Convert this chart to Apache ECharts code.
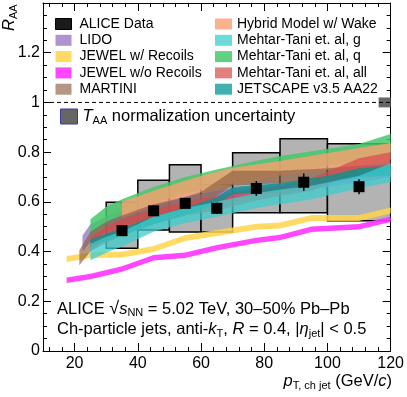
<!DOCTYPE html>
<html>
<head>
<meta charset="utf-8">
<script src="https://cdn.jsdelivr.net/npm/echarts@6/dist/echarts.min.js"></script>
<style>
  html, body { margin: 0; background: #fff; }
  #chart { width: 407px; height: 397px; }
</style>
</head>
<body>
<div id="chart"></div>
<script>
const FONT = 'Liberation Sans'

// ALICE data, 30-50% Pb-Pb
const aliceX = [35, 45, 55, 65, 77.5, 92.5, 110]
const aliceBinLo = [30, 40, 50, 60, 70, 85, 100]
const aliceBinHi = [40, 50, 60, 70, 85, 100, 120]
const aliceRaa = [0.484, 0.564, 0.594, 0.574, 0.654, 0.679, 0.661]
const aliceStat = [0.015, 0.02, 0.015, 0.022, 0.03, 0.035, 0.03]
const aliceSysLo = [0.413, 0.487, 0.479, 0.479, 0.556, 0.556, 0.524]
const aliceSysHi = [0.598, 0.687, 0.749, 0.67, 0.798, 0.854, 0.834]

// model bands (x, lower edge, upper edge)
const lidoX = [22.5, 25, 30, 35, 45, 55, 65, 77.5, 95, 110, 120]
const lidoLo = [0.40, 0.44, 0.48, 0.50, 0.535, 0.565, 0.60, 0.625, 0.65, 0.68, 0.70]
const lidoHi = [0.465, 0.51, 0.54, 0.56, 0.59, 0.62, 0.645, 0.665, 0.69, 0.72, 0.74]

const jewelRX = [17.5, 25, 35, 45, 55, 65, 77.5, 85, 95, 110, 120]
const jewelRLo = [0.358, 0.374, 0.376, 0.398, 0.443, 0.463, 0.488, 0.493, 0.523, 0.523, 0.553]
const jewelRHi = [0.382, 0.396, 0.400, 0.422, 0.467, 0.487, 0.512, 0.517, 0.547, 0.547, 0.577]

const jewelNX = [17.5, 25, 35, 45, 55, 65, 77.5, 85, 95, 110, 120]
const jewelNLo = [0.274, 0.289, 0.319, 0.364, 0.374, 0.404, 0.434, 0.446, 0.479, 0.489, 0.519]
const jewelNHi = [0.296, 0.311, 0.341, 0.386, 0.396, 0.426, 0.456, 0.468, 0.501, 0.511, 0.541]

const martiniX = [21.5, 25, 30, 35, 45, 55, 60, 70, 85, 100, 110, 120]
const martiniLo = [0.345, 0.40, 0.455, 0.49, 0.535, 0.565, 0.585, 0.665, 0.675, 0.69, 0.70, 0.705]
const martiniHi = [0.405, 0.48, 0.52, 0.545, 0.59, 0.62, 0.64, 0.725, 0.725, 0.735, 0.745, 0.75]

const hybridX = [35, 45, 55, 60, 70, 85, 95, 110, 120]
const hybridLo = [0.535, 0.58, 0.62, 0.637, 0.67, 0.705, 0.72, 0.745, 0.77]
const hybridHi = [0.60, 0.645, 0.685, 0.704, 0.737, 0.764, 0.785, 0.817, 0.837]

const mtgX = [25, 30, 35, 45, 55, 65, 77.5, 85, 95, 110, 120]
const mtgLo = [0.365, 0.395, 0.42, 0.48, 0.515, 0.54, 0.575, 0.59, 0.61, 0.655, 0.68]
const mtgHi = [0.43, 0.46, 0.48, 0.54, 0.575, 0.60, 0.635, 0.65, 0.665, 0.705, 0.755]

const mtqX = [25, 30, 35, 45, 55, 65, 77.5, 85, 95, 110, 120]
const mtqLo = [0.46, 0.51, 0.545, 0.595, 0.635, 0.665, 0.70, 0.715, 0.735, 0.765, 0.80]
const mtqHi = [0.53, 0.58, 0.61, 0.66, 0.70, 0.73, 0.765, 0.784, 0.804, 0.833, 0.873]

const mtaX = [25, 30, 35, 45, 55, 65, 77.5, 85, 95, 110, 120]
const mtaLo = [0.40, 0.435, 0.465, 0.51, 0.545, 0.565, 0.605, 0.625, 0.645, 0.725, 0.745]
const mtaHi = [0.46, 0.50, 0.53, 0.57, 0.60, 0.625, 0.655, 0.665, 0.695, 0.775, 0.80]

const jsX = [25, 35, 45, 55, 65, 70, 85, 100, 110, 120]
const jsLo = [0.42, 0.465, 0.51, 0.545, 0.59, 0.63, 0.645, 0.675, 0.70, 0.71]
const jsHi = [0.45, 0.495, 0.54, 0.575, 0.62, 0.66, 0.675, 0.705, 0.735, 0.745]

// T_AA normalization uncertainty box
const taaX = [116.2, 120]
const taaY = [0.98, 1.02]

const xMajorTicks = [20, 40, 60, 80, 100, 120]
const xMinorTicks = [12, 16, 24, 28, 32, 36, 44, 48, 52, 56, 64, 68, 72, 76, 84, 88, 92, 96, 104, 108, 112, 116]

function bandSeries(name, color, xs, lo, hi, opacity) {
  return {
    type: 'custom',
    name: name,
    clip: true,
    itemStyle: { color: color, opacity: opacity },
    data: xs.map((x, i) => [x, lo[i], hi[i]]),
    encode: { x: 0, y: [1, 2] },
    renderItem(params, api) {
      if (params.dataIndex !== 0) {
        return null
      }
      const top = xs.map((x, i) => api.coord([x, hi[i]]))
      const bottom = xs.map((x, i) => api.coord([x, lo[i]])).reverse()
      return {
        type: 'polygon',
        shape: { points: top.concat(bottom) },
        style: { fill: color, opacity: opacity },
      }
    },
  }
}

const rich = {
  n: { fontSize: 16.5, fontFamily: FONT, color: '#000' },
  i: { fontSize: 16.5, fontFamily: FONT, color: '#000', fontStyle: 'italic' },
  r: { fontSize: 18, fontFamily: FONT, color: '#000' },
  sub: { fontSize: 11, fontFamily: FONT, color: '#000', padding: [8, 0, 0, 0] },
}

const legendText = { fontSize: 14, fontFamily: FONT, color: '#000' }

const chart = echarts.init(document.getElementById('chart'))

chart.setOption({
  animation: false,
  backgroundColor: '#fff',
  textStyle: { fontFamily: FONT },
  grid: { left: 43, right: 15, top: 3, bottom: 46 },
  xAxis: [
    {
      type: 'value', min: 10, max: 120, position: 'bottom',
      axisLine: { show: true, lineStyle: { color: '#000', width: 1 } },
      axisTick: { inside: true, length: 8, customValues: xMajorTicks, lineStyle: { color: '#000' } },
      axisLabel: { customValues: xMajorTicks, color: '#000', fontSize: 16, fontFamily: FONT, margin: 5 },
      splitLine: { show: false },
    },
    {
      type: 'value', min: 10, max: 120, position: 'bottom',
      axisLine: { show: false },
      axisTick: { inside: true, length: 4, customValues: xMinorTicks, lineStyle: { color: '#000' } },
      axisLabel: { show: false },
      splitLine: { show: false },
    },
    {
      type: 'value', min: 10, max: 120, position: 'top',
      axisLine: { show: true, lineStyle: { color: '#000', width: 1 } },
      axisTick: { inside: true, length: 8, customValues: xMajorTicks, lineStyle: { color: '#000' } },
      axisLabel: { show: false },
      splitLine: { show: false },
    },
    {
      type: 'value', min: 10, max: 120, position: 'top',
      axisLine: { show: false },
      axisTick: { inside: true, length: 4, customValues: xMinorTicks, lineStyle: { color: '#000' } },
      axisLabel: { show: false },
      splitLine: { show: false },
    },
  ],
  yAxis: [
    {
      type: 'value', min: 0, max: 1.4, interval: 0.2, position: 'left',
      axisLine: { show: true, lineStyle: { color: '#000', width: 1 } },
      axisTick: { inside: true, length: 8, lineStyle: { color: '#000' } },
      minorTick: { show: true, splitNumber: 4, length: 4, lineStyle: { color: '#000' } },
      axisLabel: { showMaxLabel: false, color: '#000', fontSize: 16, fontFamily: FONT, margin: 3 },
      splitLine: { show: false },
    },
    {
      type: 'value', min: 0, max: 1.4, interval: 0.2, position: 'right',
      axisLine: { show: true, lineStyle: { color: '#000', width: 1 } },
      axisTick: { inside: true, length: 8, lineStyle: { color: '#000' } },
      minorTick: { show: true, splitNumber: 4, length: 4, lineStyle: { color: '#000' } },
      axisLabel: { show: false },
      splitLine: { show: false },
    },
  ],
  legend: [
    {
      orient: 'vertical', left: 55, top: 17, padding: 0, icon: 'rect',
      itemWidth: 16, itemHeight: 11, itemGap: 2.3, selectedMode: false,
      textStyle: Object.assign({ padding: [0, 0, 0, 3] }, legendText),
      data: [
        { name: 'ALICE Data', itemStyle: { color: '#1a1a1a', borderColor: '#000', borderWidth: 1, opacity: 1 } },
        'LIDO', 'JEWEL w/ Recoils', 'JEWEL w/o Recoils', 'MARTINI',
      ],
    },
    {
      orient: 'vertical', left: 215, top: 17, padding: 0, icon: 'rect',
      itemWidth: 17, itemHeight: 11, itemGap: 2.3, selectedMode: false,
      textStyle: legendText,
      data: ['Hybrid Model w/ Wake', 'Mehtar-Tani et. al, g', 'Mehtar-Tani et. al, q', 'Mehtar-Tani et. al, all', 'JETSCAPE v3.5 AA22'],
    },
    {
      orient: 'vertical', left: 60, top: 108, padding: 0, icon: 'rect',
      itemWidth: 17, itemHeight: 15, selectedMode: false,
      data: [{ name: 'TAA', itemStyle: { color: '#666', borderColor: '#3a3aa0', borderWidth: 1 } }],
      formatter: () => '{i|T}{sub|AA}{n| normalization uncertainty}',
      textStyle: { rich: rich },
    },
  ],
  graphic: [
    {
      type: 'text', x: 19, y: 31, rotation: Math.PI / 2,
      style: { text: '{i|R}{sub|AA}', rich: rich, align: 'left', verticalAlign: 'bottom' },
    },
    {
      type: 'text', left: 57, top: 300,
      style: { text: '{n|ALICE }{r|√}{i|s}{sub|NN}{n| = 5.02 TeV, 30–50% Pb–Pb}', rich: rich },
    },
    {
      type: 'text', left: 57, top: 321,
      style: { text: '{n|Ch-particle jets, anti-}{i|k}{sub|T}{n|, }{i|R}{n| = 0.4, |}{i|η}{sub|jet}{n|| < 0.5}', rich: rich },
    },
    {
      type: 'text', right: 15, top: 373,
      style: { text: '{i|p}{sub|T, ch jet}{n| (GeV/}{i|c}{n|)}', rich: rich },
    },
  ],
  series: [
    {
      type: 'custom',
      name: 'ALICE sys',
      clip: true,
      data: aliceX.map((x, i) => [aliceBinLo[i], aliceBinHi[i], aliceSysLo[i], aliceSysHi[i]]),
      encode: { x: [0, 1], y: [2, 3] },
      renderItem(params, api) {
        const p0 = api.coord([api.value(0), api.value(3)])
        const p1 = api.coord([api.value(1), api.value(2)])
        return {
          type: 'rect',
          shape: { x: p0[0], y: p0[1], width: p1[0] - p0[0], height: p1[1] - p0[1] },
          style: { fill: '#b3b3b3', stroke: '#000', lineWidth: 1.5 },
        }
      },
    },
    bandSeries('LIDO', '#9b78c2', lidoX, lidoLo, lidoHi, 0.8),
    bandSeries('JEWEL w/ Recoils', '#ffd449', jewelRX, jewelRLo, jewelRHi, 0.85),
    bandSeries('JEWEL w/o Recoils', '#ff33ff', jewelNX, jewelNLo, jewelNHi, 0.9),
    bandSeries('Mehtar-Tani et. al, q', '#45c86a', mtqX, mtqLo, mtqHi, 0.85),
    bandSeries('Hybrid Model w/ Wake', '#fb9f70', hybridX, hybridLo, hybridHi, 0.8),
    bandSeries('MARTINI', '#8c6040', martiniX, martiniLo, martiniHi, 0.65),
    bandSeries('Mehtar-Tani et. al, all', '#d64848', mtaX, mtaLo, mtaHi, 0.7),
    bandSeries('JETSCAPE v3.5 AA22', '#009595', jsX, jsLo, jsHi, 0.75),
    bandSeries('Mehtar-Tani et. al, g', '#3ccccc', mtgX, mtgLo, mtgHi, 0.75),
    {
      type: 'line',
      name: 'unity',
      silent: true,
      symbol: 'none',
      data: [[10, 1], [120, 1]],
      lineStyle: { color: '#000', width: 1, type: [4, 3] },
    },
    {
      type: 'custom',
      name: 'TAA',
      clip: true,
      itemStyle: { color: '#666' },
      data: [[taaX[0], taaX[1], taaY[0], taaY[1]]],
      encode: { x: [0, 1], y: [2, 3] },
      renderItem(params, api) {
        const p0 = api.coord([api.value(0), api.value(3)])
        const p1 = api.coord([api.value(1), api.value(2)])
        return {
          type: 'rect',
          shape: { x: p0[0], y: p0[1], width: p1[0] - p0[0], height: p1[1] - p0[1] },
          style: { fill: '#666' },
        }
      },
    },
    {
      type: 'custom',
      name: 'ALICE Data',
      clip: true,
      z: 5,
      itemStyle: { color: '#000' },
      data: aliceX.map((x, i) => [x, aliceRaa[i], aliceStat[i]]),
      encode: { x: 0, y: 1 },
      renderItem(params, api) {
        const x = api.value(0)
        const y = api.value(1)
        const err = api.value(2)
        const c = api.coord([x, y])
        const up = api.coord([x, y + err])
        const down = api.coord([x, y - err])
        return {
          type: 'group',
          children: [
            { type: 'line', shape: { x1: c[0], y1: up[1], x2: c[0], y2: down[1] }, style: { stroke: '#000', lineWidth: 1.5 } },
            { type: 'rect', shape: { x: c[0] - 5.5, y: c[1] - 5.5, width: 11, height: 11 }, style: { fill: '#000' } },
          ],
        }
      },
    },
  ],
})

window.addEventListener('resize', () => chart.resize())
</script>
</body>
</html>
